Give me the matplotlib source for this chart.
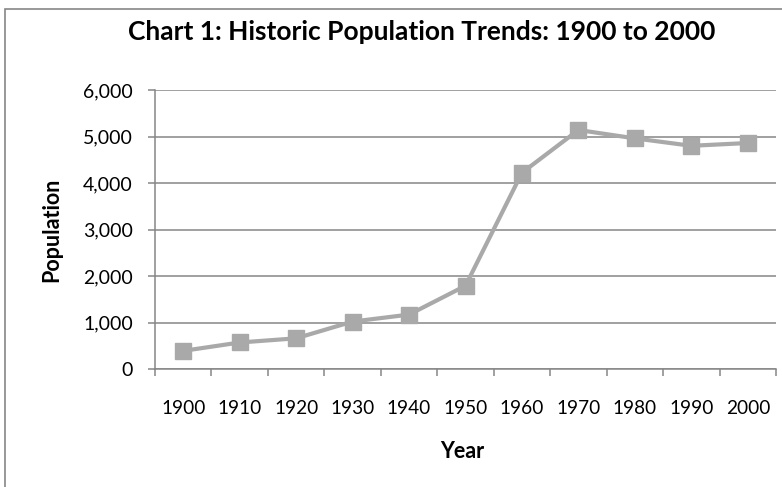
import matplotlib
matplotlib.use("Agg")
import matplotlib.pyplot as plt
from matplotlib.patches import Rectangle

years = ["1900", "1910", "1920", "1930", "1940", "1950", "1960", "1970", "1980", "1990", "2000"]
population = [390, 570, 660, 1020, 1170, 1790, 4220, 5140, 4960, 4800, 4860]
y_ticks = [0, 1000, 2000, 3000, 4000, 5000, 6000]
y_tick_labels = ["0", "1,000", "2,000", "3,000", "4,000", "5,000", "6,000"]

W, H = 782, 487
fig = plt.figure(figsize=(W / 100, H / 100), dpi=100)
plt.rcParams['font.family'] = ['Lato', 'DejaVu Sans']

grey = "#868686"
fig.patches.append(Rectangle((5 / W, -0.1), 1.2, 1 - 9 / H + 0.1, transform=fig.transFigure,
                             fill=False, edgecolor=grey, linewidth=1.2))

ax = fig.add_axes([155 / W, 1 - 369 / H, (776 - 155) / W, (369 - 90) / H])
x = list(range(len(years)))
ax.plot(x, population, color="#A9A9A9", linewidth=3, marker="s", markersize=11.5,
        markerfacecolor="#A9A9A9", markeredgecolor="#A9A9A9", zorder=3, clip_on=False)

ax.set_xlim(-0.5, len(years) - 0.5)
ax.set_ylim(0, 6000)
ax.set_yticks(y_ticks)
ax.set_yticklabels(y_tick_labels, fontsize=14, color="#000000")
ax.yaxis.grid(True, color=grey, linewidth=1.1)
ax.set_axisbelow(True)

ax.set_xticks([i - 0.5 for i in range(len(years) + 1)])
ax.set_xticklabels([])
ax.set_xticks(x, minor=True)
ax.set_xticklabels(years, minor=True, fontsize=13.7)
ax.tick_params(axis="x", which="minor", length=0, pad=22)
ax.tick_params(axis="x", which="major", length=5, color=grey, width=1.1, direction="out")
ax.tick_params(axis="y", length=5, color=grey, width=1.1, pad=11)

for s in ["top", "right"]:
    ax.spines[s].set_visible(False)
for s in ["left", "bottom"]:
    ax.spines[s].set_color(grey)
    ax.spines[s].set_linewidth(1.1)

fig.text(422 / W, 1 - 32 / H, "Chart 1: Historic Population Trends: 1900 to 2000",
         ha="center", va="center", fontsize=19, fontweight="bold")
fig.text(52 / W, 1 - 230 / H, "Population", rotation=90, ha="center", va="center",
         fontsize=15.5, fontweight="bold")
fig.text(462 / W, 1 - 452 / H, "Year", ha="center", va="center", fontsize=15.5, fontweight="bold")

fig.savefig("out.png", dpi=100)
